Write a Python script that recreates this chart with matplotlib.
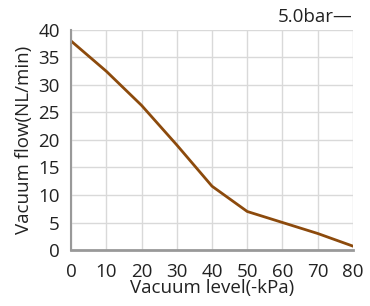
import matplotlib
matplotlib.use("Agg")
import matplotlib.pyplot as plt

vacuum = [0, 10, 20, 30, 40, 50, 60, 70, 80]
flow = [38.0, 32.5, 26.3, 19.1, 11.6, 7.0, 5.0, 3.0, 0.7]
xticks = [0, 10, 20, 30, 40, 50, 60, 70, 80]
yticks = [0, 5, 10, 15, 20, 25, 30, 35, 40]

plt.rcParams['font.family'] = ['Open Sans', 'DejaVu Sans']
fig = plt.figure(figsize=(3.7, 3.06), dpi=100)
ax = fig.add_axes([0.192, 0.183, 0.762, 0.719])

ax.plot(vacuum, flow, color="#8c4a0c", lw=2)
ax.set_xlim(0, 80); ax.set_ylim(0, 40)
ax.set_xticks(xticks); ax.set_yticks(yticks)
ax.grid(True, color="#d9d9d9", lw=1)
ax.set_axisbelow(True)
ax.tick_params(length=0, labelsize=13.5, colors="#222222")
ax.tick_params(axis="x", pad=9)
ax.tick_params(axis="y", pad=8)
for s in ["top", "right"]:
    ax.spines[s].set_visible(False)
ax.spines["left"].set_color("#999999"); ax.spines["left"].set_linewidth(1.5)
ax.spines["bottom"].set_color("#999999"); ax.spines["bottom"].set_linewidth(2)
ax.set_xlabel("Vacuum level(-kPa)", fontsize=13.5, color="#222222", labelpad=-1)
ax.set_ylabel("Vacuum flow(NL/min)", fontsize=13.5, color="#222222", labelpad=4)
fig.text(0.954, 0.945, "5.0bar—", ha="right", va="center", fontsize=13.5, color="#222222")

fig.savefig("out.png", dpi=100)
